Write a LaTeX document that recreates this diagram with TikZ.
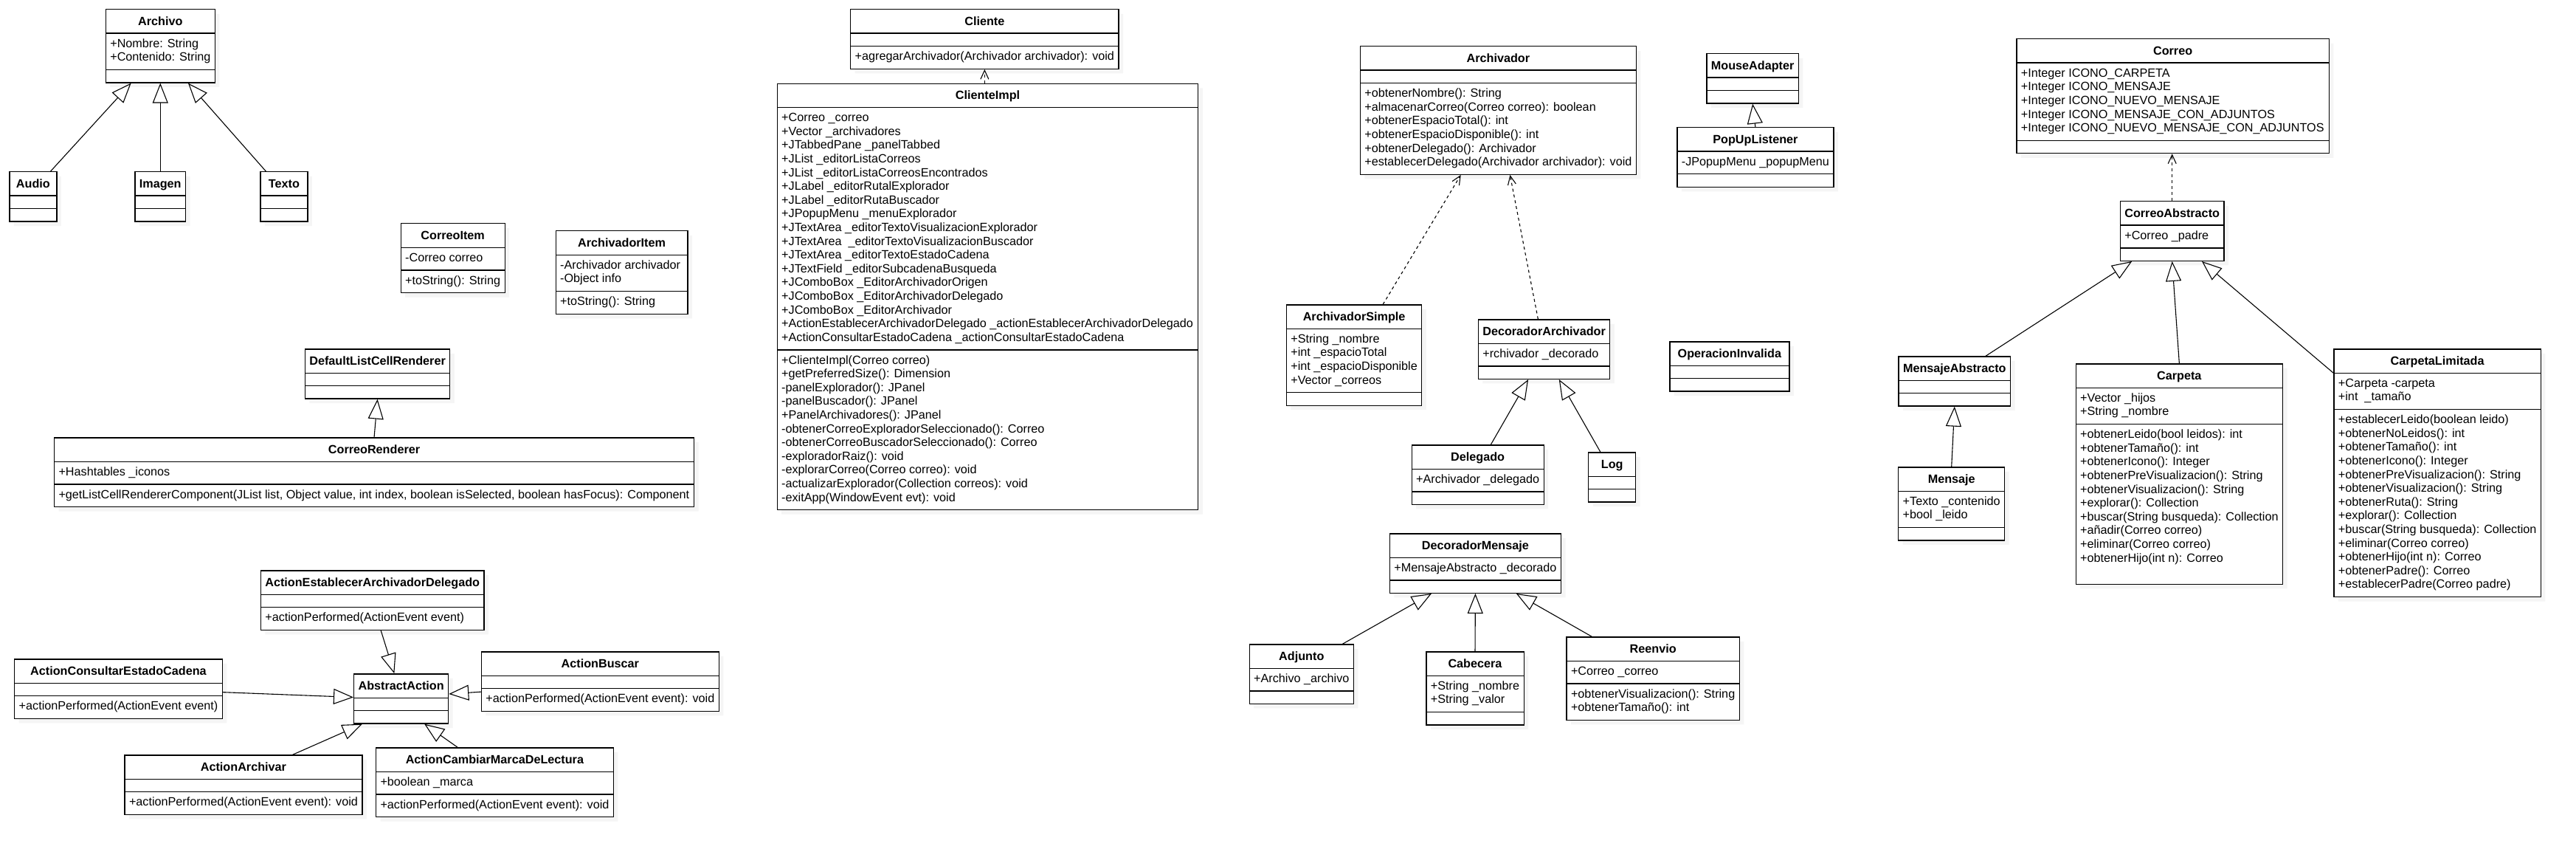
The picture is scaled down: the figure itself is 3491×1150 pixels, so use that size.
\documentclass[tikz,border=0pt]{standalone}
\usepackage{fontspec}
\setmainfont{Liberation Sans}
\usetikzlibrary{shapes.multipart,arrows.meta,shadows}
\newcommand{\umltitle}[1]{\rule[-4.5pt]{0pt}{20pt}\textbf{#1}}
\newcommand{\umllines}[1]{\strut#1\strut}
\begin{document}
\begin{tikzpicture}[x=1pt,y=-1pt,
    font=\fontsize{16.2}{18.6}\selectfont,
    umlclass/.style={draw, line width=1.2pt, fill=white, anchor=north west,
      rectangle split, rectangle split parts=3,
      rectangle split part align={center,left,left}, align=left,
      inner xsep=6pt, inner ysep=5.5pt,
      drop shadow={shadow xshift=6pt, shadow yshift=-6pt, fill=black!4, opacity=1}},
    inherit/.style={line width=1.1pt, -{Triangle[open,length=27pt,width=21pt]}},
    realize/.style={line width=1.1pt, dash pattern=on 4pt off 4pt, -{Straight Barb[length=12pt,width=11pt]}}]
  \useasboundingbox (0,0) rectangle (3491,1150);

  \node[umlclass, minimum width=146pt] (archivo) at (142.7,12.3) {\umltitle{Archivo}\nodepart{second}\umllines{+Nombre: String\\+Contenido: String}\nodepart{third}};
  \node[umlclass, minimum width=64pt] (audio) at (12.3,232.3) {\umltitle{Audio}\nodepart{second}\nodepart{third}};
  \node[umlclass, minimum width=68pt] (imagen) at (182.3,232.3) {\umltitle{Imagen}\nodepart{second}\nodepart{third}};
  \node[umlclass, minimum width=64pt] (texto) at (352.3,232.3) {\umltitle{Texto}\nodepart{second}\nodepart{third}};
  \node[umlclass, minimum width=139pt] (correoitem) at (542.6,302.3) {\umltitle{CorreoItem}\nodepart{second}\umllines{-Correo correo}\nodepart{third}\umllines{+toString(): String}};
  \node[umlclass, minimum width=178.8pt] (archivadoritem) at (752.6,312.3) {\umltitle{ArchivadorItem}\nodepart{second}\umllines{-Archivador archivador\\-Object info}\nodepart{third}\umllines{+toString(): String}};
  \node[umlclass, minimum width=196pt] (defaultlist) at (412.7,472.3) {\umltitle{DefaultListCellRenderer}\nodepart{second}\nodepart{third}};
  \node[umlclass, minimum width=867.1pt] (correorenderer) at (72.9,592.3) {\umltitle{CorreoRenderer}\nodepart{second}\umllines{+Hashtables \_iconos}\nodepart{third}\umllines{+getListCellRendererComponent(JList list, Object value, int index, boolean isSelected, boolean hasFocus): Component}};

  \node[umlclass, minimum width=362.5pt] (cliente) at (1152.1,12.3) {\umltitle{Cliente}\nodepart{second}\nodepart{third}\umllines{+agregarArchivador(Archivador archivador): void}};
  \node[umlclass, minimum width=570.6pt] (clienteimpl) at (1052.6,112.7) {\umltitle{ClienteImpl}\nodepart{second}\umllines{+Correo \_correo\\
    +Vector \_archivadores\\
    +JTabbedPane \_panelTabbed\\
    +JList \_editorListaCorreos\\
    +JList \_editorListaCorreosEncontrados\\
    +JLabel \_editorRutalExplorador\\
    +JLabel \_editorRutaBuscador\\
    +JPopupMenu \_menuExplorador\\
    +JTextArea \_editorTextoVisualizacionExplorador\\
    +JTextArea \ \_editorTextoVisualizacionBuscador\\
    +JTextArea \_editorTextoEstadoCadena\\
    +JTextField \_editorSubcadenaBusqueda\\
    +JComboBox \_EditorArchivadorOrigen\\
    +JComboBox \_EditorArchivadorDelegado\\
    +JComboBox \_EditorArchivador\\
    +ActionEstablecerArchivadorDelegado \_actionEstablecerArchivadorDelegado\\
    +ActionConsultarEstadoCadena \_actionConsultarEstadoCadena}\nodepart{third}\umllines{+ClienteImpl(Correo correo)\\
    +getPreferredSize(): Dimension\\
    -panelExplorador(): JPanel\\
    -panelBuscador(): JPanel\\
    +PanelArchivadores(): JPanel\\
    -obtenerCorreoExploradorSeleccionado(): Correo\\
    -obtenerCorreoBuscadorSeleccionado(): Correo\\
    -exploradorRaiz(): void\\
    -explorarCorreo(Correo correo): void\\
    -actualizarExplorador(Collection correos): void\\
    -exitApp(WindowEvent evt): void}};

  \node[umlclass, minimum width=302.3pt] (establecer) at (352.7,772.3) {\umltitle{ActionEstablecerArchivadorDelegado}\nodepart{second}\nodepart{third}\umllines{+actionPerformed(ActionEvent event)}};
  \node[umlclass, minimum width=280.6pt] (consultar) at (19.1,892.3) {\umltitle{ActionConsultarEstadoCadena}\nodepart{second}\nodepart{third}\umllines{+actionPerformed(ActionEvent event)}};
  \node[umlclass, minimum width=126.9pt] (abstractaction) at (479,912.3) {\umltitle{AbstractAction}\nodepart{second}\nodepart{third}};
  \node[umlclass, minimum width=320.8pt] (buscar) at (651.8,882.3) {\umltitle{ActionBuscar}\nodepart{second}\nodepart{third}\umllines{+actionPerformed(ActionEvent event): void}};
  \node[umlclass, minimum width=320.8pt] (archivar) at (168.4,1022.3) {\umltitle{ActionArchivar}\nodepart{second}\nodepart{third}\umllines{+actionPerformed(ActionEvent event): void}};
  \node[umlclass, minimum width=320.1pt] (cambiarmarca) at (508.9,1012.3) {\umltitle{ActionCambiarMarcaDeLectura}\nodepart{second}\umllines{+boolean \_marca}\nodepart{third}\umllines{+actionPerformed(ActionEvent event): void}};

  \node[umlclass, minimum width=372.6pt] (archivador) at (1842.7,62.3) {\umltitle{Archivador}\nodepart{second}\nodepart{third}\umllines{+obtenerNombre(): String\\
    +almacenarCorreo(Correo correo): boolean\\
    +obtenerEspacioTotal(): int\\
    +obtenerEspacioDisponible(): int\\
    +obtenerDelegado(): Archivador\\
    +establecerDelegado(Archivador archivador): void}};
  \node[umlclass, minimum width=183pt] (simple) at (1742.7,412.3) {\umltitle{ArchivadorSimple}\nodepart{second}\umllines{+String \_nombre\\+int \_espacioTotal\\+int \_espacioDisponible\\+Vector \_correos}\nodepart{third}};
  \node[umlclass, minimum width=177.6pt] (decoarchivador) at (2002.7,432.3) {\umltitle{DecoradorArchivador}\nodepart{second}\umllines{+rchivador \_decorado}\nodepart{third}};
  \node[umlclass, minimum width=178.6pt] (delegado) at (1912.5,602.3) {\umltitle{Delegado}\nodepart{second}\umllines{+Archivador \_delegado}\nodepart{third}};
  \node[umlclass, minimum width=63.8pt] (log) at (2152.2,612.3) {\umltitle{Log}\nodepart{second}\nodepart{third}};
  \node[umlclass, minimum width=231.8pt] (decomensaje) at (1882.7,722.3) {\umltitle{DecoradorMensaje}\nodepart{second}\umllines{+MensajeAbstracto \_decorado}\nodepart{third}};
  \node[umlclass, minimum width=140.5pt] (adjunto) at (1692.6,872.3) {\umltitle{Adjunto}\nodepart{second}\umllines{+Archivo \_archivo}\nodepart{third}};
  \node[umlclass, minimum width=131.7pt] (cabecera) at (1932.3,882.3) {\umltitle{Cabecera}\nodepart{second}\umllines{+String \_nombre\\+String \_valor}\nodepart{third}};
  \node[umlclass, minimum width=232.7pt] (reenvio) at (2122.4,862.3) {\umltitle{Reenvio}\nodepart{second}\umllines{+Correo \_correo}\nodepart{third}\umllines{+obtenerVisualizacion(): String\\+obtenerTamaño(): int}};

  \node[umlclass, minimum width=124.4pt] (mouseadapter) at (2312.3,72.3) {\umltitle{MouseAdapter}\nodepart{second}\nodepart{third}};
  \node[umlclass, minimum width=212pt] (popup) at (2272.3,172.3) {\umltitle{PopUpListener}\nodepart{second}\umllines{-JPopupMenu \_popupMenu}\nodepart{third}};
  \node[umlclass, minimum width=162pt] (operacion) at (2262.3,462.3) {\umltitle{OperacionInvalida}\nodepart{second}\nodepart{third}};

  \node[umlclass, minimum width=423.4pt] (correo) at (2732.3,52.3) {\umltitle{Correo}\nodepart{second}\umllines{+Integer ICONO\_CARPETA\\
    +Integer ICONO\_MENSAJE\\
    +Integer ICONO\_NUEVO\_MENSAJE\\
    +Integer ICONO\_MENSAJE\_CON\_ADJUNTOS\\
    +Integer ICONO\_NUEVO\_MENSAJE\_CON\_ADJUNTOS}\nodepart{third}};
  \node[umlclass, minimum width=140pt] (correoabs) at (2872.7,272.3) {\umltitle{CorreoAbstracto}\nodepart{second}\umllines{+Correo \_padre}\nodepart{third}};
  \node[umlclass, minimum width=150.8pt] (mensajeabs) at (2572.4,482.3) {\umltitle{MensajeAbstracto}\nodepart{second}\nodepart{third}};
  \node[umlclass, minimum width=144pt] (mensaje) at (2572.1,632.3) {\umltitle{Mensaje}\nodepart{second}\umllines{+Texto \_contenido\\+bool \_leido}\nodepart{third}};
  \node[umlclass, minimum width=279.3pt] (carpeta) at (2812.5,492.3) {\umltitle{Carpeta}\nodepart{second}\umllines{+Vector \_hijos\\+String \_nombre}\nodepart{third}\umllines{+obtenerLeido(bool leidos): int\\
    +obtenerTamaño(): int\\
    +obtenerIcono(): Integer\\
    +obtenerPreVisualizacion(): String\\
    +obtenerVisualizacion(): String\\
    +explorar(): Collection\\
    +buscar(String busqueda): Collection\\
    +añadir(Correo correo)\\
    +eliminar(Correo correo)\\
    +obtenerHijo(int n): Correo\\}};
  \node[umlclass, minimum width=279.4pt] (carpetalim) at (3162.3,472.3) {\umltitle{CarpetaLimitada}\nodepart{second}\umllines{+Carpeta -carpeta\\+int \ \_tamaño}\nodepart{third}\umllines{+establecerLeido(boolean leido)\\
    +obtenerNoLeidos(): int\\
    +obtenerTamaño(): int\\
    +obtenerIcono(): Integer\\
    +obtenerPreVisualizacion(): String\\
    +obtenerVisualizacion(): String\\
    +obtenerRuta(): String\\
    +explorar(): Collection\\
    +buscar(String busqueda): Collection\\
    +eliminar(Correo correo)\\
    +obtenerHijo(int n): Correo\\
    +obtenerPadre(): Correo\\
    +establecerPadre(Correo padre)}};

  \begin{scope}[inherit]
    \draw ([xshift=23.4pt]audio.north) to ([xshift=-39.7pt]archivo.south);
    \draw (imagen.north) to (imagen.north |- archivo.south);
    \draw ([xshift=-24.3pt]texto.north) to ([xshift=37.6pt]archivo.south);
    \draw (correorenderer.north) to (defaultlist.south);
    \draw ([xshift=11.5pt]establecer.south) to ([xshift=-9.3pt]abstractaction.north);
    \draw ([yshift=-4.5pt]consultar.east) to ([yshift=2pt]abstractaction.west);
    \draw ([yshift=-14pt]buscar.west) to ([yshift=6.5pt]abstractaction.east);
    \draw ([xshift=66.6pt]archivar.north) to ([xshift=-52.7pt]abstractaction.south);
    \draw ([xshift=-50.3pt]cambiarmarca.north) to ([xshift=31.5pt]abstractaction.south);
    \draw ([xshift=17.7pt]delegado.north) to ([xshift=-21.5pt]decoarchivador.south);
    \draw ([xshift=-15.8pt]log.north) to ([xshift=20.2pt]decoarchivador.south);
    \draw ([xshift=55.6pt]adjunto.north) to ([xshift=-59.4pt]decomensaje.south);
    \draw (cabecera.north) to (decomensaje.south);
    \draw ([xshift=-82.9pt]reenvio.north) to ([xshift=55.4pt]decomensaje.south);
    \draw (popup.north) to (mouseadapter.south);
    \draw ([xshift=42.2pt]mensajeabs.north) to ([xshift=-54.5pt]correoabs.south);
    \draw (mensaje.north) to (mensajeabs.south);
    \draw (carpeta.north) to (correoabs.south);
    \draw ([yshift=-33pt]carpetalim.north west) to ([xshift=40.3pt]correoabs.south);
  \end{scope}
  \begin{scope}[realize]
    \draw (cliente.south |- clienteimpl.north) to (cliente.south);
    \draw ([xshift=39.1pt]simple.north) to ([xshift=-50.7pt]archivador.south);
    \draw ([xshift=-8.2pt]decoarchivador.north) to ([xshift=16pt]archivador.south);
    \draw (correoabs.north) to (correoabs.north |- correo.south);
  \end{scope}
\end{tikzpicture}
\end{document}
